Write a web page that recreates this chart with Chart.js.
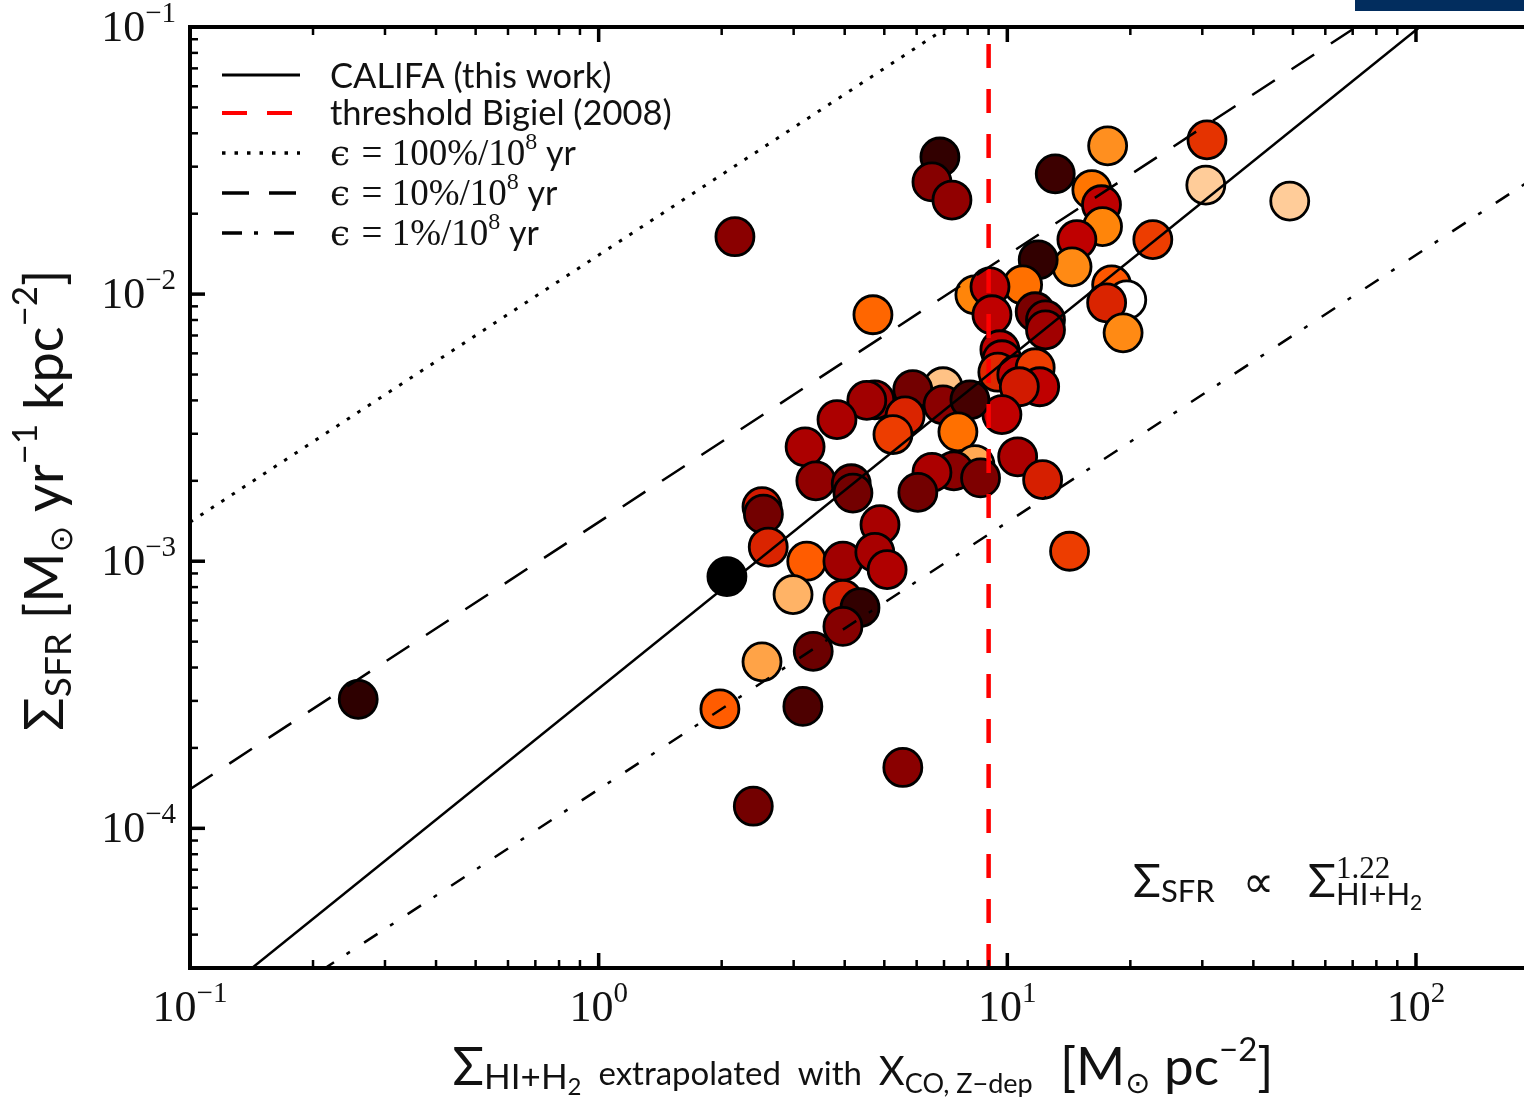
<!DOCTYPE html>
<html>
<head>
<meta charset="utf-8">
<script src="https://cdn.jsdelivr.net/npm/chart.js@4"></script>
<style>
  html, body { margin: 0; padding: 0; background: #fff; overflow: hidden; }
  #wrap { position: relative; width: 1524px; height: 1097px; overflow: hidden; }
  #myChart { position: absolute; left: 0; top: 0; }
  #bar { position: absolute; left: 1355px; top: 0; width: 169px; height: 11px; background: #022d5e; }
</style>
</head>
<body>
<div id="wrap">
  <canvas id="myChart" width="1545" height="1097"></canvas>
  <div id="bar"></div>
</div>
<script>
// gas surface density (M_sun pc^-2), SFR surface density (M_sun yr^-1 kpc^-2), colour value (0..1)
const gasDensity = [
  0.258, 6.84, 6.54, 7.32, 2.155, 17.6, 13.1, 30.8, 30.6, 49.1,
  16.1, 17.0, 17.1, 14.8, 22.7, 14.4, 11.9, 10.9, 8.33, 9.07,
  4.69, 9.17, 11.7, 12.4, 12.4, 18.0, 19.6, 17.5, 19.2, 9.59,
  9.70, 9.48, 10.55, 11.7, 12.0, 10.7, 9.70, 6.96, 5.87, 4.74,
  4.53, 3.83, 5.62, 5.25, 6.96, 8.10, 7.57, 3.20, 10.6, 12.2,
  8.33, 7.40, 6.54, 8.60, 6.04, 3.40, 4.15, 4.19, 14.2, 2.51,
  2.53, 2.60, 3.23, 3.96, 4.88, 4.74, 5.08, 2.06, 2.99, 3.96,
  4.36, 3.96, 3.35, 2.51, 1.98, 3.16, 5.55, 2.39
];
const sfrDensity = [
  3.04e-4, 0.0326, 0.0263, 0.0225, 0.0164, 0.0359, 0.0282, 0.0378, 0.0256, 0.0223,
  0.0246, 0.0216, 0.0179, 0.0160, 0.0160, 0.01265, 0.01344, 0.01083, 0.00994, 0.01065,
  0.00837, 0.00837, 0.00859, 0.00801, 0.00735, 0.01083, 0.00952, 0.00928, 0.00716, 0.00619,
  0.00568, 0.00510, 0.00499, 0.00530, 0.00450, 0.00450, 0.00354, 0.00450, 0.00439, 0.00402,
  0.00400, 0.00339, 0.00350, 0.00298, 0.00385, 0.00402, 0.00305, 0.00268, 0.00246, 0.00202,
  0.00230, 0.00218, 0.00215, 0.00205, 0.00181, 0.00200, 0.00195, 0.00180, 0.00109, 0.00160,
  0.00150, 0.00113, 0.00100, 0.00100, 0.00137, 0.00108, 0.00093, 0.000876, 0.00075, 0.00072,
  0.00067, 0.00057, 0.00046, 0.00042, 0.00028, 0.000286, 0.000169, 0.000121
];
const colorValue = [
  0.12, 0.13, 0.35, 0.38, 0.36, 0.78, 0.16, 0.60, 0.90, 0.90,
  0.73, 0.50, 0.76, 0.50, 0.62, 0.77, 0.13, 0.72, 0.76, 0.50,
  0.70, 0.50, 0.32, 0.36, 0.42, 0.67, 1.00, 0.57, 0.77, 0.50,
  0.50, 0.58, 0.50, 0.62, 0.50, 0.55, 0.50, 0.88, 0.30, 0.42,
  0.42, 0.45, 0.57, 0.62, 0.36, 0.18, 0.72, 0.45, 0.45, 0.56,
  0.83, 0.36, 0.45, 0.33, 0.30, 0.38, 0.33, 0.30, 0.62, 0.55,
  0.30, 0.57, 0.68, 0.42, 0.44, 0.44, 0.46, 0.00, 0.85, 0.56,
  0.13, 0.35, 0.28, 0.82, 0.68, 0.20, 0.36, 0.30
];

// reference lines, end points
const lineX = [0.1, 200];
const califaY = [1.95e-5, 0.229];
const eff100Y = [1.4e-3, 2.8];
const eff10Y = [1.4e-4, 0.28];
const eff1Y = [1.4e-5, 0.028];
const bigielX = [9, 9];
const bigielY = [3e-5, 0.1];

const xDecades = [0.1, 1, 10, 100];
const xExponents = ['\u22121', '0', '1', '2'];
const yDecades = [1e-4, 1e-3, 1e-2, 1e-1];
const yExponents = ['\u22124', '\u22123', '\u22122', '\u22121'];

const SANS = 'Lato, "DejaVu Sans", sans-serif';
const SERIF = '"Liberation Serif", "DejaVu Serif", serif';
const INK = '#111';

function gistHeat(v) {
  const r = Math.min(1, 1.5 * v);
  const g = Math.max(0, Math.min(1, 2 * v - 1));
  const b = Math.max(0, Math.min(1, 4 * v - 3));
  return 'rgb(' + Math.round(r * 255) + ',' + Math.round(g * 255) + ',' + Math.round(b * 255) + ')';
}

function pts(xs, ys) { return xs.map((x, i) => ({ x: x, y: ys[i] })); }

// runs: [text, font, dy]
function drawRuns(ctx, x, y, runs, align) {
  let w = 0;
  runs.forEach(r => { ctx.font = r[1]; w += ctx.measureText(r[0]).width; });
  let cx = align === 'center' ? x - w / 2 : (align === 'right' ? x - w : x);
  runs.forEach(r => {
    ctx.font = r[1];
    ctx.fillText(r[0], cx, y + (r[2] || 0));
    cx += ctx.measureText(r[0]).width;
  });
  return cx;
}

const frame = {
  id: 'frame',
  afterDatasetsDraw(chart) {
    const ctx = chart.ctx;
    const a = chart.chartArea;
    const xs = chart.scales.x, ys = chart.scales.y;
    ctx.save();
    ctx.strokeStyle = '#000';
    ctx.fillStyle = INK;
    ctx.textBaseline = 'alphabetic';

    // ticks (inward)
    ctx.lineCap = 'butt';
    for (let d = 0.1; d <= 100; d *= 10) {
      for (let k = 1; k <= 9; k++) {
        const v = d * k;
        const px = xs.getPixelForValue(v);
        const len = k === 1 ? 15 : 8;
        ctx.lineWidth = k === 1 ? 3.5 : 2.5;
        ctx.beginPath();
        ctx.moveTo(px, a.bottom); ctx.lineTo(px, a.bottom - len);
        ctx.moveTo(px, a.top); ctx.lineTo(px, a.top + len);
        ctx.stroke();
      }
    }
    for (let d = 1e-5; d <= 0.1; d *= 10) {
      for (let k = 1; k <= 9; k++) {
        const v = d * k;
        if (v < 3e-5 || v > 0.1001) continue;
        const py = ys.getPixelForValue(v);
        const len = k === 1 ? 15 : 8;
        ctx.lineWidth = k === 1 ? 3.5 : 2.5;
        ctx.beginPath();
        ctx.moveTo(a.left, py); ctx.lineTo(a.left + len, py);
        ctx.stroke();
      }
    }

    // spines
    ctx.lineWidth = 4;
    ctx.strokeRect(a.left, a.top, a.right - a.left, a.bottom - a.top);

    // tick labels
    xDecades.forEach((v, i) => {
      const px = xs.getPixelForValue(v);
      drawRuns(ctx, px, a.bottom + 53, [['10', '44px ' + SERIF], [xExponents[i], '29px ' + SERIF, -19]], 'center');
    });
    yDecades.forEach((v, i) => {
      const py = ys.getPixelForValue(v);
      drawRuns(ctx, a.left - 14, py + 14, [['10', '44px ' + SERIF], [yExponents[i], '29px ' + SERIF, -19]], 'right');
    });

    // legend
    const lx0 = 222, lx1 = 300, tx = 330;
    const rows = [
      { y: 75, color: '#000', width: 3, dash: [] },
      { y: 113, color: '#ff0000', width: 4, dash: [25, 20] },
      { y: 153, color: '#000', width: 3.5, dash: [3.5, 9] },
      { y: 193, color: '#000', width: 3.5, dash: [27, 20] },
      { y: 233, color: '#000', width: 3.5, dash: [20, 12, 4, 16] }
    ];
    rows.forEach(r => {
      ctx.beginPath();
      ctx.strokeStyle = r.color; ctx.lineWidth = r.width; ctx.setLineDash(r.dash);
      ctx.moveTo(lx0, r.y); ctx.lineTo(lx1, r.y); ctx.stroke();
    });
    ctx.setLineDash([]);
    drawRuns(ctx, tx, 88, [['CALIFA (this work)', '34.5px ' + SANS]], 'left');
    drawRuns(ctx, tx, 125, [['threshold Bigiel (2008)', '34.5px ' + SANS]], 'left');
    const effs = ['100%', '10%', '1%'];
    effs.forEach((e, i) => {
      drawRuns(ctx, tx, 165 + 40 * i, [
        ['\u03f5 ', '36px "DejaVu Serif"'],
        ['= ' + e + '/10', '37px ' + SERIF],
        ['8', '24px ' + SERIF, -16],
        [' yr', '34px ' + SANS]
      ], 'left');
    });

    // relation annotation
    let ex = drawRuns(ctx, 1133, 897, [['\u03a3', '46px ' + SANS], ['SFR', '31px ' + SANS, 5], ['  \u221d  ', '44px "DejaVu Sans"']], 'left');
    ex = drawRuns(ctx, ex + 6, 897, [['\u03a3', '46px ' + SANS]], 'left');
    drawRuns(ctx, ex, 878, [['1.22', '31px ' + SERIF]], 'left');
    drawRuns(ctx, ex, 905, [['HI+H', '31px ' + SANS], ['2', '21px ' + SANS, 5]], 'left');

    // x-axis title
    drawRuns(ctx, 863, 1085, [
      ['\u03a3', '52px ' + SANS],
      ['HI+H', '35px ' + SANS, 4],
      ['2', '24px ' + SANS, 10],
      ['  extrapolated  with  ', '33px ' + SANS],
      ['X', '40px ' + SANS],
      ['CO, Z\u2212dep', '27px ' + SANS, 8],
      ['  [M', '53px ' + SANS],
      ['\u2299', '30px "DejaVu Sans"', 8],
      [' pc', '53px ' + SANS],
      ['\u22122', '33px ' + SANS, -24],
      [']', '53px ' + SANS]
    ], 'center');

    // y-axis title
    ctx.translate(63, 500);
    ctx.rotate(-Math.PI / 2);
    drawRuns(ctx, 0, 0, [
      ['\u03a3', '55px ' + SANS],
      ['SFR', '37px ' + SANS, 8],
      [' [M', '54px ' + SANS],
      ['\u2299', '32px "DejaVu Sans"', 9],
      [' yr', '54px ' + SANS],
      ['\u22121', '35px ' + SANS, -26],
      [' kpc', '54px ' + SANS],
      ['\u22122', '35px ' + SANS, -26],
      [']', '54px ' + SANS]
    ], 'center');
    ctx.restore();
  }
};

function lineSet(xs, ys, color, width, dash) {
  return {
    data: pts(xs, ys), showLine: true, borderColor: color, borderWidth: width,
    borderDash: dash, pointRadius: 0, fill: false, order: 1
  };
}

const ctx = document.getElementById('myChart');
new Chart(ctx, {
  type: 'scatter',
  data: {
    datasets: [
      lineSet(lineX, califaY, '#000', 2.5, []),
      lineSet(lineX, eff100Y, '#000', 3, [3.5, 9]),
      lineSet(lineX, eff10Y, '#000', 2.5, [27, 20]),
      lineSet(lineX, eff1Y, '#000', 2.5, [16, 15, 4, 17]),
      lineSet(bigielX, bigielY, '#ff0000', 4.5, [24, 21]),
      {
        data: pts(gasDensity, sfrDensity),
        pointRadius: 19,
        pointBorderWidth: 2.8,
        pointBorderColor: '#000',
        pointBackgroundColor: colorValue.map(gistHeat),
        order: 10
      }
    ]
  },
  options: {
    responsive: false,
    animation: false,
    // the plot frame runs past the right edge of the picture (x up to 200)
    layout: { autoPadding: false, padding: { left: 190, top: 27, right: 6, bottom: 129 } },
    plugins: { legend: { display: false }, tooltip: { enabled: false } },
    scales: {
      x: { type: 'logarithmic', min: 0.1, max: 200, display: false },
      y: { type: 'logarithmic', min: 3e-5, max: 0.1, display: false }
    }
  },
  plugins: [frame]
});
</script>
</body>
</html>
